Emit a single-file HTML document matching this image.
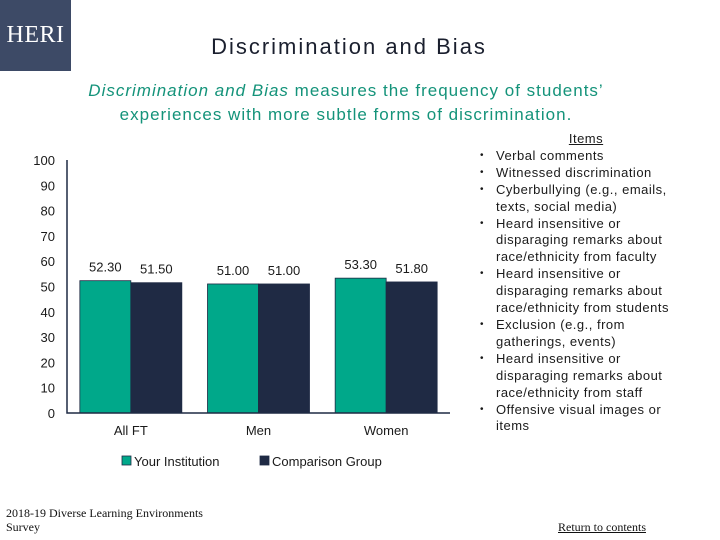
<!DOCTYPE html>
<html><head><meta charset="utf-8"><style>
body{margin:0;width:720px;height:540px;background:#fff;position:relative;overflow:hidden;font-family:"Liberation Sans",sans-serif;}
.abs{position:absolute;}
#logo{left:0;top:0;width:71px;height:71px;background:#3d4a66;color:#fff;font-family:"Liberation Serif",serif;font-size:24px;line-height:71px;text-align:center;letter-spacing:0.5px}
#title{left:49px;top:34px;width:600px;text-align:center;font-size:22px;color:#1a1f2e;letter-spacing:2px}
#sub{left:46px;top:79px;width:600px;text-align:center;font-size:17px;color:#14937a;line-height:24px;letter-spacing:1px}
#items{left:476px;top:131px;width:222px;font-size:13px;color:#1a1a1a;line-height:16.9px;letter-spacing:0.5px}
#items .h{text-align:center;text-decoration:underline;width:220px}
#items li{list-style:none;position:relative;padding-left:20px}
#items li:before{content:"•";position:absolute;left:4px;font-size:10px}
#items ul{margin:0;padding:0}
#foot{left:6px;top:506px;font-family:"Liberation Serif",serif;font-size:12px;color:#111;line-height:14px}
#ret{left:558px;top:520px;font-family:"Liberation Serif",serif;font-size:12px;color:#111;text-decoration:underline}
</style></head><body>
<div id="logo" class="abs">HERI</div>
<div id="title" class="abs">Discrimination and Bias</div>
<div id="sub" class="abs"><i>Discrimination and Bias</i> measures the frequency of students’<br>experiences with more subtle forms of discrimination.</div>
<svg class="abs" style="left:0;top:0" width="470" height="480" id="chart"></svg>
<div id="items" class="abs">
<div class="h">Items</div>
<ul>
<li>Verbal comments</li>
<li>Witnessed discrimination</li>
<li>Cyberbullying (e.g., emails,<br>texts, social media)</li>
<li>Heard insensitive or<br>disparaging remarks about<br>race/ethnicity from faculty</li>
<li>Heard insensitive or<br>disparaging remarks about<br>race/ethnicity from students</li>
<li>Exclusion (e.g., from<br>gatherings, events)</li>
<li>Heard insensitive or<br>disparaging remarks about<br>race/ethnicity from staff</li>
<li>Offensive visual images or<br>items</li>
</ul></div>
<div id="foot" class="abs">2018-19 Diverse Learning Environments<br>Survey</div>
<a id="ret" class="abs">Return to contents</a>
<script>
const categories=["All FT","Men","Women"];
const institution=[52.3,51.0,53.3];
const comparison=[51.5,51.0,51.8];
const yTicks=[0,10,20,30,40,50,60,70,80,90,100];
const svg=document.getElementById('chart');
const NS='http://www.w3.org/2000/svg';
const x0=67,x1=450,yB=413,yT=160;
const y=v=>yB-(v/100)*(yB-yT);
const band=(x1-x0)/categories.length;
const bw=51;
function el(t,a,txt){const e=document.createElementNS(NS,t);for(const k in a)e.setAttribute(k,a[k]);if(txt!==undefined)e.textContent=txt;svg.appendChild(e);return e;}
yTicks.forEach(t=>{const e=el('text',{x:55,y:y(t)+5,'text-anchor':'end','font-size':13,fill:'#1a1a1a','font-family':'Liberation Sans, sans-serif'},t);

});
categories.forEach((c,i)=>{
 const cx=x0+band*(i+0.5);
 const series=[[institution[i],'#00a88a'],[comparison[i],'#1f2a44']];
 series.forEach((s,j)=>{
  const bx=cx-bw+j*bw;
  const r=el('rect',{x:bx,y:y(s[0]),width:bw,height:yB-y(s[0]),fill:s[1],stroke:'#1f2a44','stroke-width':0.8});
  
  
  const t=el('text',{x:bx+bw/2,y:y(s[0])-9,'text-anchor':'middle','font-size':13,fill:'#1a1a1a','font-family':'Liberation Sans, sans-serif'},s[0].toFixed(2));
  
  
 });
 const l=el('text',{x:cx,y:435,'text-anchor':'middle','font-size':13,fill:'#1a1a1a','font-family':'Liberation Sans, sans-serif'},c);
 
 
});
const ax=el('path',{d:`M${x0},${yT} V${yB} H${x1}`,stroke:'#1f2a44','stroke-width':1.5,fill:'none'});


[[122,'#00a88a','Your Institution'],[260,'#1f2a44','Comparison Group']].forEach((g,i)=>{
 const r=el('rect',{x:g[0],y:456,width:9,height:9,fill:g[1],stroke:'#1f2a44','stroke-width':0.8});
 
 
 const t=el('text',{x:g[0]+12,y:466,'font-size':13,fill:'#1a1a1a','font-family':'Liberation Sans, sans-serif'},g[2]);
 
 
});
</script>
</body></html>
